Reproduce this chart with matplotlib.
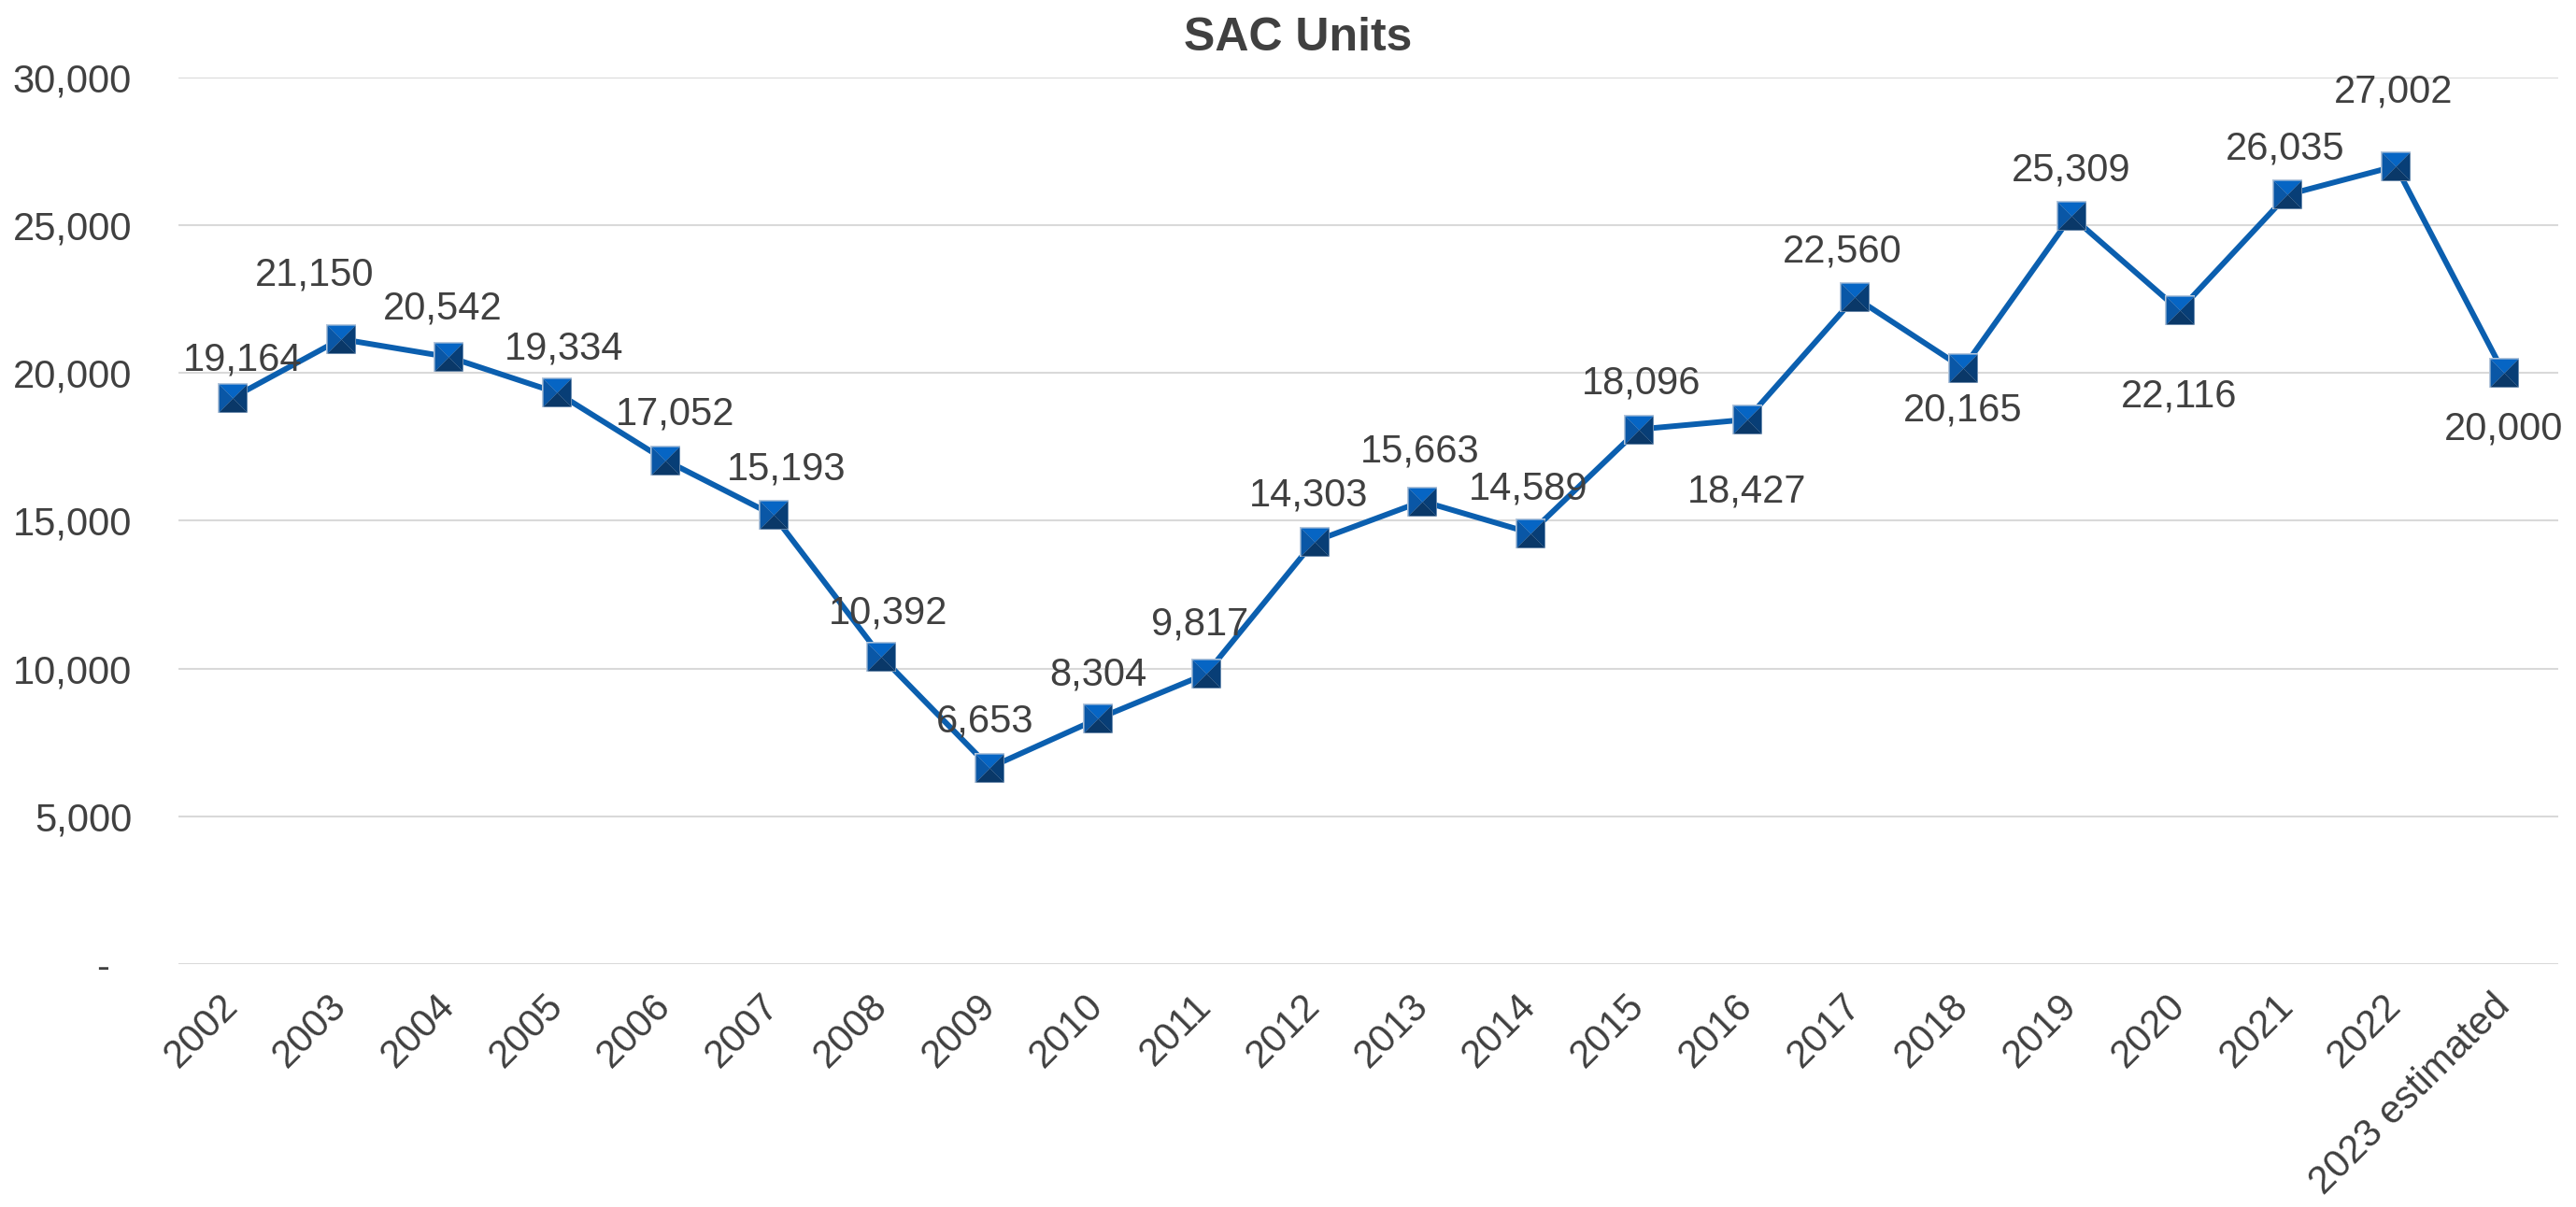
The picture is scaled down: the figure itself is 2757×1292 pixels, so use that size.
import matplotlib.pyplot as plt
from matplotlib.path import Path
from matplotlib.ticker import FuncFormatter

years = ["2002", "2003", "2004", "2005", "2006", "2007", "2008", "2009", "2010",
         "2011", "2012", "2013", "2014", "2015", "2016", "2017", "2018", "2019",
         "2020", "2021", "2022", "2023 estimated"]
units = [19164, 21150, 20542, 19334, 17052, 15193, 10392, 6653, 8304,
         9817, 14303, 15663, 14589, 18096, 18427, 22560, 20165, 25309,
         22116, 26035, 27002, 20000]

# label offsets in points (dx, dy)
label_offsets = [(8, 29), (-20, 49), (-5, 37), (5, 34), (8, 35), (10, 35),
                 (5, 34), (-4, 35), (0, 34), (-5, 38), (-4, 35), (-2, 38),
                 (-2, 34), (2, 35), (0, -56), (-10, 35), (0, -33), (0, 35),
                 (0, -66), (-2, 35), (-2, 57), (0, -43)]

plt.rcParams["font.family"] = ["Liberation Sans", "DejaVu Sans"]
text_color = "#404040"
line_color = "#0B5FAF"

fig = plt.figure(figsize=(27.57, 12.92), dpi=100)
ax = fig.add_axes([0.0693, 0.2012, 0.9237, 0.7346])

x = list(range(len(years)))
ax.plot(x, units, color=line_color, lw=4.3, zorder=3)

# pyramid-shaded square markers built from four triangles
tri_top = Path([(-1, 1), (1, 1), (0, 0), (-1, 1)])
tri_left = Path([(-1, 1), (0, 0), (-1, -1), (-1, 1)])
tri_right = Path([(1, 1), (1, -1), (0, 0), (1, 1)])
tri_bottom = Path([(-1, -1), (0, 0), (1, -1), (-1, -1)])
ax.plot(x, units, ls="none", marker="s", markersize=23, markerfacecolor="#B4C6DB",
        markeredgewidth=0, zorder=4)
for path, col in [(tri_top, "#0665C4"), (tri_left, "#0A57A6"),
                  (tri_right, "#083E76"), (tri_bottom, "#0A3868")]:
    ax.plot(x, units, ls="none", marker=path, markersize=21.5,
            markerfacecolor=col, markeredgewidth=0, zorder=4)

for xi, v, (dx, dy) in zip(x, units, label_offsets):
    ax.annotate(f"{v:,}", (xi, v), xytext=(dx, dy), textcoords="offset points",
                ha="center", va="center", fontsize=30, color=text_color, zorder=5)

ax.set_xlim(-0.5, len(years) - 0.5)
ax.set_ylim(0, 30000)
ax.set_yticks(range(0, 30001, 5000))
ax.yaxis.set_major_formatter(FuncFormatter(lambda v, p: "-  " if v == 0 else f"{int(v):,}"))
ax.set_xticks(x)
ax.set_xticklabels(years, rotation=45, ha="right", va="center", rotation_mode="anchor")
ax.tick_params(axis="y", length=0, pad=36, labelsize=30, labelcolor=text_color)
ax.tick_params(axis="x", length=0, pad=28, labelsize=30, labelcolor=text_color)
ax.grid(axis="y", color="#D9D9D9", lw=1.5)
ax.set_axisbelow(True)
for s in ax.spines.values():
    s.set_visible(False)

fig.text(0.504, 0.968, "SAC Units", ha="center", va="center", fontsize=36,
         fontweight="bold", color=text_color)

plt.savefig("out.png", dpi=100)
